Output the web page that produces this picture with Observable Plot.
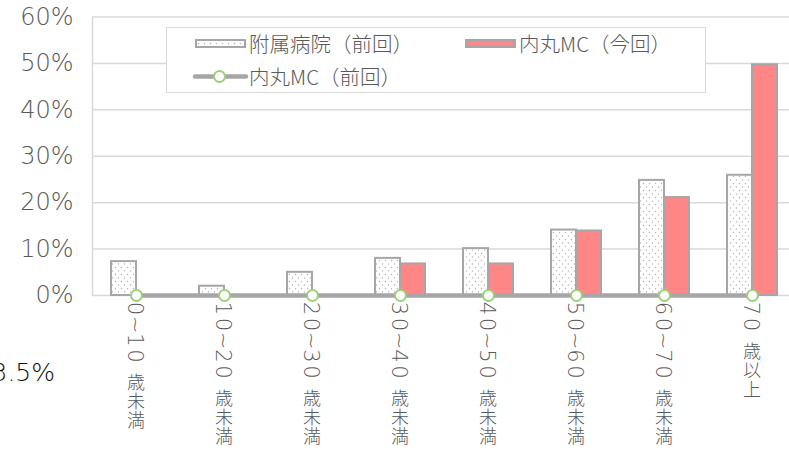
<!DOCTYPE html>
<html><head><meta charset="utf-8">
<script src="https://cdn.jsdelivr.net/npm/d3@7"></script>
<script src="https://cdn.jsdelivr.net/npm/@observablehq/plot@0.6"></script>
<style>
html,body{margin:0;padding:0;background:#fff;overflow:hidden;}
#wrap{position:relative;width:789px;height:452px;overflow:hidden;}
#wrap > svg{position:absolute;left:0;top:0;}
.legend{position:absolute;left:166px;top:27px;width:538px;height:64px;border:1.5px solid #d9d9d9;background:#fff;}
.legend svg{position:absolute;left:0;top:0;}
.lt{position:absolute;font-family:"Noto Sans CJK JP",sans-serif;font-weight:300;font-size:20.5px;color:#595959;line-height:22px;white-space:nowrap;}
.note{position:absolute;right:734px;top:360px;font-family:"DejaVu Sans",sans-serif;font-weight:200;font-size:25px;line-height:25px;color:#111;white-space:nowrap;}
</style></head>
<body>
<div id="wrap"></div>
<script>
const categories = ["0~10歳未満","10~20歳未満","20~30歳未満","30~40歳未満","40~50歳未満","50~60歳未満","60~70歳未満","70歳以上"];
const fuzokuPrev = [0.073, 0.020, 0.050, 0.080, 0.101, 0.141, 0.248, 0.259];
const uchimaruNow = [0, 0, 0, 0.068, 0.068, 0.139, 0.211, 0.497];
const uchimaruPrev = [0, 0, 0, 0, 0, 0, 0, 0];
const yTicks = [0, 0.1, 0.2, 0.3, 0.4, 0.5, 0.6];
const seriesNames = ["附属病院（前回）", "内丸MC（今回）", "内丸MC（前回）"];
const noteText = "3.5%";

const fz = categories.map((c, i) => ({cat: c, v: fuzokuPrev[i]})).filter(d => d.v > 0);
const un = categories.map((c, i) => ({cat: c, v: uchimaruNow[i]})).filter(d => d.v > 0);
const up = categories.map((c, i) => ({cat: c, v: uchimaruPrev[i]}));

const grey = "#a6a6a6", red = "#ff8686", green = "#9bd17b", txt = "#595959";

const chart = Plot.plot({
  width: 789, height: 452,
  marginLeft: 92, marginRight: -7, marginTop: 16.5, marginBottom: 157,
  style: {background: "transparent", overflow: "visible"},
  x: {domain: categories, padding: 0, axis: null},
  y: {domain: [0, 0.6]},
  marks: [
    Plot.gridY(yTicks, {stroke: "#d9d9d9", strokeOpacity: 1, strokeWidth: 1.5}),
    Plot.frame({anchor: "left", stroke: "#d9d9d9", strokeWidth: 1.5}),
    Plot.axisY(yTicks, {tickSize: 0, tickPadding: 19, tickFormat: d => Math.round(d * 100) + "%", fontSize: 24, fontFamily: "DejaVu Sans", fontWeight: 200, fill: txt, label: null}),
    Plot.barY(fz, {x: "cat", y: "v", fill: "url(#dots)", stroke: grey, strokeWidth: 2, insetLeft: 19, insetRight: 44}),
    Plot.barY(un, {x: "cat", y: "v", fill: red, stroke: grey, strokeWidth: 2, insetLeft: 44, insetRight: 19}),
    Plot.line(up, {x: "cat", y: "v", stroke: grey, strokeWidth: 4.5}),
    Plot.dot(up, {x: "cat", y: "v", r: 5.5, fill: "#fff", stroke: green, strokeWidth: 2})
  ]
});

const ns = "http://www.w3.org/2000/svg";
const defs = document.createElementNS(ns, "defs");
defs.innerHTML = `<pattern id="dots" width="6" height="7" patternUnits="userSpaceOnUse">
<rect width="6" height="7" fill="#fff"/>
<circle cx="1.5" cy="1.5" r="0.75" fill="#b5b5b5"/>
<circle cx="4.5" cy="5" r="0.75" fill="#b5b5b5"/></pattern>`;
chart.insertBefore(defs, chart.firstChild);

const wrap = document.getElementById("wrap");
wrap.appendChild(chart);

// vertical x labels (tategaki): digits rotated, kanji upright; placed with Plot's scales
const xs = chart.scale("x"), ys = chart.scale("y");
const labelG = document.createElementNS(ns, "g");
labelG.setAttribute("fill", txt);
chart.appendChild(labelG);
const kSize = 18, kPitch = 19, dSize = 21, dPitch = 16, tPitch = 15.5, runGap = 2;
categories.forEach(c => {
  const cx = xs.apply(c) + xs.bandwidth / 2;
  let y = ys.apply(0) + 13.5;
  const chars = [...c];
  chars.forEach((ch, i) => {
    const t = document.createElementNS(ns, "text");
    t.textContent = ch;
    if (/[0-9~]/.test(ch)) {
      t.setAttribute("transform", `translate(${cx},${y}) rotate(90)`);
      t.setAttribute("dy", "0.36em");
      t.setAttribute("font-family", "DejaVu Sans");
      t.setAttribute("font-weight", "200");
      t.setAttribute("font-size", dSize);
      y += ch === "~" ? tPitch : dPitch;
      if (i + 1 < chars.length && !/[0-9~]/.test(chars[i + 1])) y += runGap;
    } else {
      t.setAttribute("x", cx);
      t.setAttribute("y", y + kSize * 0.86);
      t.setAttribute("text-anchor", "middle");
      t.setAttribute("font-family", "Noto Sans CJK JP");
      t.setAttribute("font-weight", "300");
      t.setAttribute("font-size", kSize);
      y += kPitch;
    }
    labelG.appendChild(t);
  });
});

// legend
const lg = document.createElement("div");
lg.className = "legend";
lg.innerHTML = `<svg width="538" height="64">
<defs><pattern id="dots2" width="6" height="7" patternUnits="userSpaceOnUse">
<rect width="6" height="7" fill="#fff"/>
<circle cx="1.5" cy="1.5" r="0.75" fill="#b5b5b5"/>
<circle cx="4.5" cy="5" r="0.75" fill="#b5b5b5"/></pattern></defs>
<rect x="29" y="12" width="49" height="7" fill="url(#dots2)" stroke="${grey}" stroke-width="2"/>
<rect x="299" y="12" width="49" height="7" fill="${red}" stroke="${grey}" stroke-width="2"/>
<line x1="28" x2="79" y1="48.5" y2="48.5" stroke="${grey}" stroke-width="4.5" stroke-linecap="round"/>
<circle cx="52.5" cy="48.5" r="5.5" fill="#fff" stroke="${green}" stroke-width="2"/>
</svg>
<div class="lt" style="left:82px;top:4px">${seriesNames[0]}</div>
<div class="lt" style="left:352px;top:4px">${seriesNames[1]}</div>
<div class="lt" style="left:82px;top:37px">${seriesNames[2]}</div>`;
wrap.appendChild(lg);

const note = document.createElement("div");
note.className = "note";
note.textContent = noteText;
wrap.appendChild(note);
</script>
</body></html>
